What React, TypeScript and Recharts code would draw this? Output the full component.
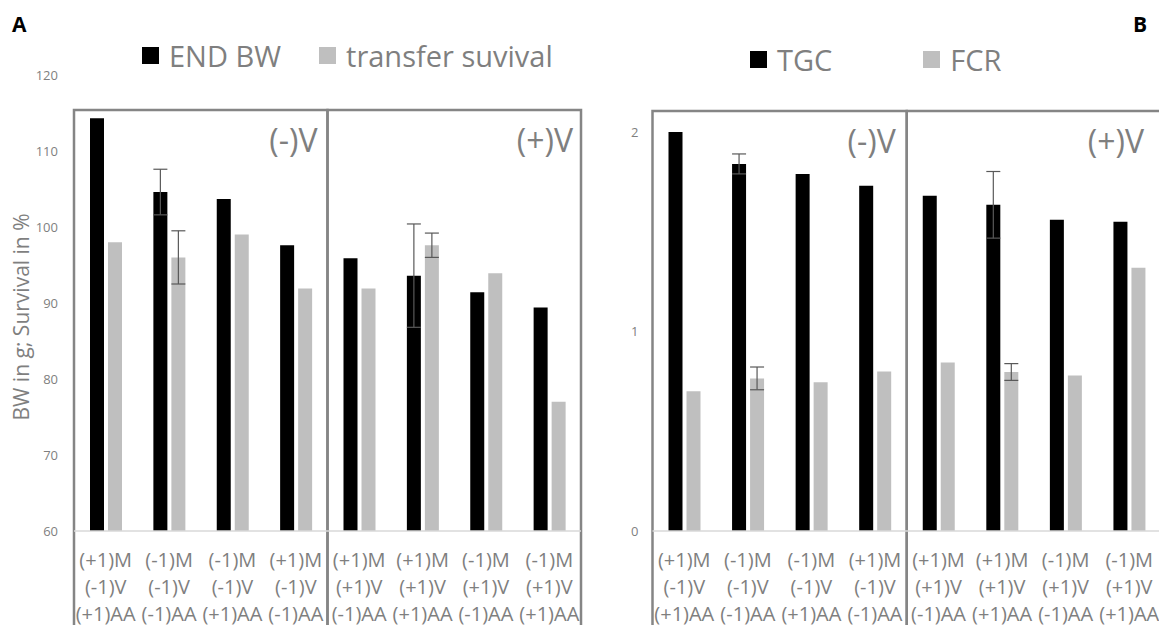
import { BarChart, Bar, XAxis, YAxis, ErrorBar, ReferenceArea, Legend } from "recharts";

const FONT = "'Open Sans', 'Liberation Sans', sans-serif";
const GREY_TEXT = "#7f7f7f";
const BOX = "#858585";

// factor levels per treatment group (same order in both panels)
const mLevels = ["(+1)M", "(-1)M", "(-1)M", "(+1)M", "(+1)M", "(+1)M", "(-1)M", "(-1)M"];
const vLevels = ["(-1)V", "(-1)V", "(-1)V", "(-1)V", "(+1)V", "(+1)V", "(+1)V", "(+1)V"];
const aaLevels = ["(+1)AA", "(-1)AA", "(+1)AA", "(-1)AA", "(-1)AA", "(+1)AA", "(-1)AA", "(+1)AA"];

// panel A
const endBw = [114.3, 104.6, 103.7, 97.6, 95.9, 93.6, 91.4, 89.4];
const endBwErr = [null, 3.0, null, null, null, 6.8, null, null];
const transferSurvival = [98.0, 96.0, 99.0, 91.9, 91.9, 97.6, 93.9, 77.0];
const transferSurvivalErr = [null, 3.5, null, null, null, 1.6, null, null];
const ticksA = [60, 70, 80, 90, 100, 110, 120];

// panel B
const tgc = [2.0, 1.84, 1.79, 1.73, 1.68, 1.635, 1.56, 1.55];
const tgcErr = [null, 0.05, null, null, null, 0.167, null, null];
const fcr = [0.7, 0.765, 0.745, 0.8, 0.845, 0.797, 0.78, 1.32];
const fcrErr = [null, 0.057, null, null, null, 0.042, null, null];
const ticksB = [0, 1, 2];

const groupKeys = mLevels.map((m, i) => `${m}|${vLevels[i]}|${aaLevels[i]}`);

function buildRows(dark: number[], darkErr: (number | null)[], light: number[], lightErr: (number | null)[]) {
  return groupKeys.map((key, i) => ({
    key,
    dark: dark[i],
    darkErr: darkErr[i],
    light: light[i],
    lightErr: lightErr[i],
  }));
}

function GroupTick({ x, y, payload }: any) {
  const [m, v, aa] = String(payload.value).split("|");
  return (
    <text x={x} y={y} textAnchor="middle" fill={GREY_TEXT} fontSize={20} fontFamily={FONT}>
      <tspan x={x} dy={36}>{m}</tspan>
      <tspan x={x} dy={27}>{v}</tspan>
      <tspan x={x} dy={27}>{aa}</tspan>
    </text>
  );
}

function CornerTag({ viewBox, text, inset }: any) {
  if (!viewBox) return null;
  const { x, y, width } = viewBox;
  return (
    <text x={x + width - inset} y={y + 42} textAnchor="end" fontSize={32} fill={GREY_TEXT} fontFamily={FONT}>
      {text}
    </text>
  );
}

function AxisTitle({ viewBox, text }: any) {
  if (!viewBox) return null;
  const cx = viewBox.x + 21;
  const cy = viewBox.y + viewBox.height / 2 + 14;
  return (
    <text
      x={cx}
      y={cy}
      transform={`rotate(-90 ${cx} ${cy})`}
      textAnchor="middle"
      dominantBaseline="central"
      fontSize={21}
      fill={GREY_TEXT}
      fontFamily={FONT}
    >
      {text}
    </text>
  );
}

function LegendRow({ payload, gap, order }: any) {
  // keep series order instead of the alphabetical default
  const items = [...(payload ?? [])].sort((a: any, b: any) => order.indexOf(a.value) - order.indexOf(b.value));
  return (
    <div style={{ display: "flex", alignItems: "center", whiteSpace: "nowrap", fontFamily: FONT, fontSize: 29, color: GREY_TEXT }}>
      {items.map((entry: any, i: number) => (
        <span key={entry.value} style={{ display: "inline-flex", alignItems: "center", marginLeft: i === 0 ? 0 : gap }}>
          <span style={{ display: "inline-block", width: 17, height: 17, background: entry.color, marginRight: 10 }} />
          {entry.value}
        </span>
      ))}
    </div>
  );
}

interface PanelProps {
  rows: ReturnType<typeof buildRows>;
  darkName: string;
  lightName: string;
  domain: [number, number];
  ticks: number[];
  boxTop: number;
  boxBottom: number;
  width: number;
  marginTop: number;
  marginRight: number;
  axisWidth: number;
  tickMargin: number;
  legendLeft: number;
  legendTop: number;
  legendGap: number;
  tagInsets: [number, number];
  yTitle?: string;
}

function FactorialBars(p: PanelProps) {
  const { rows } = p;
  return (
    <BarChart
      width={p.width}
      height={625}
      data={rows}
      barSize={14}
      barGap={4}
      margin={{ top: p.marginTop, right: p.marginRight, bottom: 0, left: 0 }}
    >
      <XAxis
        dataKey="key"
        height={94}
        tick={<GroupTick />}
        tickLine={false}
        tickSize={0}
        tickMargin={0}
        interval={0}
        axisLine={{ stroke: "#d9d9d9", strokeWidth: 1.5 }}
      />
      <YAxis
        type="number"
        domain={p.domain}
        ticks={p.ticks}
        allowDataOverflow
        width={p.axisWidth}
        axisLine={false}
        tickLine={false}
        tickSize={0}
        tickMargin={p.tickMargin}
        tick={{ fill: GREY_TEXT, fontSize: 13, fontFamily: FONT }}
        label={p.yTitle ? <AxisTitle text={p.yTitle} /> : undefined}
      />
      <Legend
        verticalAlign="middle"
        align="center"
        layout="horizontal"
        wrapperStyle={{ left: p.legendLeft, top: p.legendTop, width: "auto" }}
        content={<LegendRow gap={p.legendGap} order={[p.darkName, p.lightName]} />}
      />
      <ReferenceArea
        x1={rows[0].key}
        x2={rows[3].key}
        y1={p.boxBottom}
        y2={p.boxTop}
        ifOverflow="visible"
        fill="none"
        stroke={BOX}
        strokeWidth={2.5}
        label={<CornerTag text="(-)V" inset={p.tagInsets[0]} />}
      />
      <ReferenceArea
        x1={rows[4].key}
        x2={rows[7].key}
        y1={p.boxBottom}
        y2={p.boxTop}
        ifOverflow="visible"
        fill="none"
        stroke={BOX}
        strokeWidth={2.5}
        label={<CornerTag text="(+)V" inset={p.tagInsets[1]} />}
      />
      <Bar dataKey="dark" name={p.darkName} fill="#000000" isAnimationActive={false}>
        <ErrorBar dataKey="darkErr" width={7} stroke="#595959" strokeWidth={1.2} />
      </Bar>
      <Bar dataKey="light" name={p.lightName} fill="#bfbfbf" isAnimationActive={false}>
        <ErrorBar dataKey="lightErr" width={7} stroke="#595959" strokeWidth={1.2} />
      </Bar>
    </BarChart>
  );
}

const letterStyle = { position: "absolute" as const, top: 10, fontFamily: FONT, fontWeight: 700, fontSize: 21, color: "#000" };

export default function App() {
  const rowsA = buildRows(endBw, endBwErr, transferSurvival, transferSurvivalErr);
  const rowsB = buildRows(tgc, tgcErr, fcr, fcrErr);
  return (
    <div style={{ position: "absolute", left: 0, top: 0, width: 1159, height: 625, overflow: "hidden", background: "#fff" }}>
      <div style={{ position: "absolute", left: 0, top: 0 }}>
        <FactorialBars
          rows={rowsA}
          darkName="END BW"
          lightName="transfer suvival"
          domain={[60, 120]}
          ticks={ticksA}
          boxTop={115.4}
          boxBottom={45}
          width={590}
          marginTop={75}
          marginRight={9}
          axisWidth={74}
          tickMargin={16}
          legendLeft={142}
          legendTop={36}
          legendGap={38}
          tagInsets={[10, 8]}
          yTitle="BW in g; Survival in %"
        />
      </div>
      <div style={{ position: "absolute", left: 590, top: 0 }}>
        <FactorialBars
          rows={rowsB}
          darkName="TGC"
          lightName="FCR"
          domain={[0, 2]}
          ticks={ticksB}
          boxTop={2.105}
          boxBottom={-0.6}
          width={590}
          marginTop={132}
          marginRight={19}
          axisWidth={62.5}
          tickMargin={14}
          legendLeft={160}
          legendTop={40}
          legendGap={91}
          tagInsets={[11, 17]}
        />
      </div>
      <span style={{ ...letterStyle, left: 12 }}>A</span>
      <span style={{ ...letterStyle, left: 1133 }}>B</span>
    </div>
  );
}
